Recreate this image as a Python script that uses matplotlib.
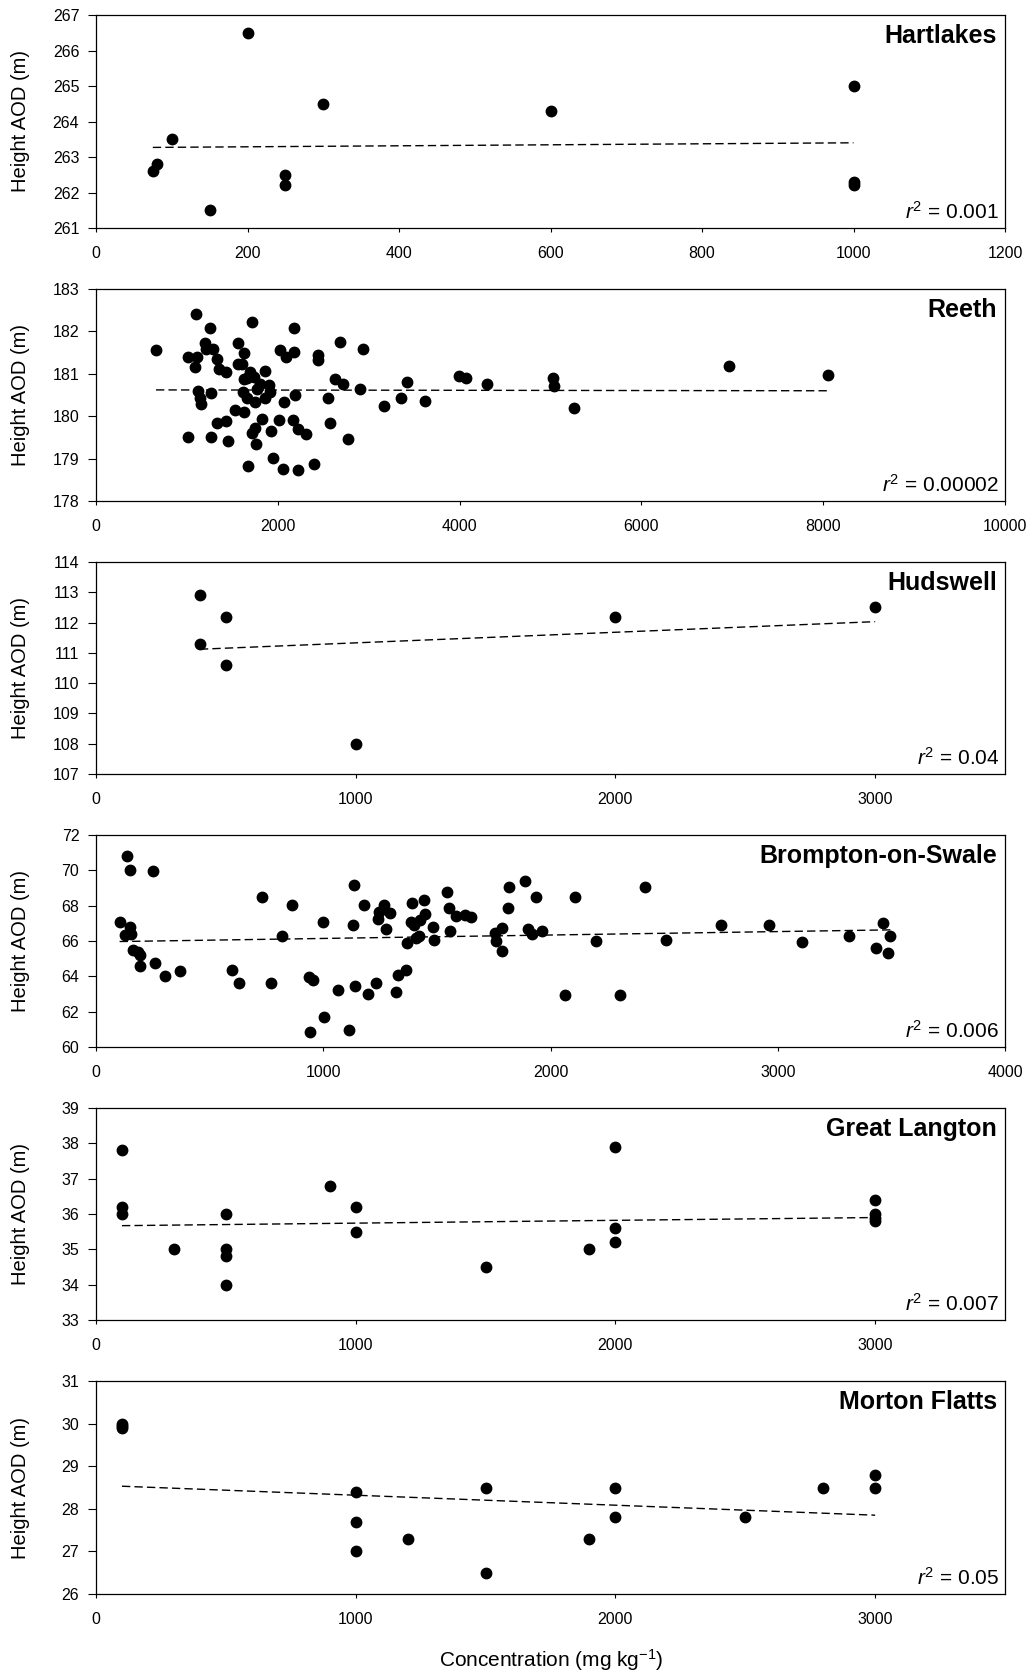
import matplotlib
matplotlib.use("Agg")
import matplotlib.pyplot as plt
import numpy as np

plt.rcParams['font.family'] = ['Liberation Sans', 'DejaVu Sans']
plt.rcParams['mathtext.fontset'] = 'custom'
plt.rcParams['mathtext.rm'] = 'Liberation Sans'
plt.rcParams['mathtext.it'] = 'Liberation Sans:italic'

# Hartlakes
hart_x = [75, 80, 100, 150, 200, 250, 250, 300, 600, 1000, 1000, 1000]
hart_y = [262.6, 262.8, 263.5, 261.5, 266.5, 262.5, 262.2, 264.5, 264.3, 265.0, 262.3, 262.2]
hart_trend_x = [75, 1000]
hart_trend_y = [263.27, 263.40]

# Reeth
reeth_x = [660, 1104, 1008, 1111, 1085, 1250, 1203, 1210, 1283, 1331, 1349, 1430,
           1122, 1140, 1151, 1269, 1012, 1269, 1331, 1430, 1452, 1558, 1624, 1565,
           1606, 1716, 1698, 1661, 1742, 1855, 1624, 1617, 1661, 1753, 1771, 1808,
           1900, 1918, 1855, 1533, 1624, 1826, 1753, 1716, 1764, 1929, 2009, 1947,
           1669, 2057, 2222, 2395, 2065, 2193, 2167, 2222, 2314, 2028, 2090, 2174,
           2174, 2442, 2442, 2552, 2633, 2717, 2688, 2578, 2776, 2908, 2937, 3172,
           3359, 3421, 3623, 3990, 4070, 4301, 5032, 5043, 5257, 6964, 8056]
reeth_y = [181.56, 182.40, 181.40, 181.39, 181.17, 182.09, 181.73, 181.58, 181.58, 181.36,
           181.11, 181.05, 180.60, 180.43, 180.28, 180.54, 179.51, 179.51, 179.85, 179.88,
           179.42, 181.73, 181.50, 181.24, 181.22, 182.23, 181.05, 180.91, 180.93, 181.06,
           180.87, 180.57, 180.42, 180.34, 180.65, 180.77, 180.73, 180.57, 180.42, 180.14,
           180.10, 179.94, 179.71, 179.61, 179.35, 179.65, 179.91, 179.02, 178.82, 178.76,
           178.74, 178.87, 180.34, 180.51, 179.91, 179.69, 179.57, 181.56, 181.39, 181.52,
           182.09, 181.44, 181.32, 180.43, 180.87, 180.76, 181.74, 179.85, 179.46, 180.64,
           181.58, 180.24, 180.42, 180.81, 180.35, 180.94, 180.89, 180.77, 180.89, 180.72,
           180.20, 181.18, 180.96]
reeth_trend_x = [660, 8056]
reeth_trend_y = [180.62, 180.60]

# Hudswell
huds_x = [400, 400, 500, 500, 1000, 2000, 3000]
huds_y = [112.9, 111.3, 112.2, 110.6, 108.0, 112.2, 112.5]
huds_trend_x = [400, 3000]
huds_trend_y = [111.12, 112.03]

# Brompton-on-Swale
bro_x = [136, 151, 104, 151, 154, 126, 163, 183, 192, 195, 253, 258, 305, 370,
         600, 630, 729, 769, 817, 861, 938, 956, 941, 1000, 1003, 1066, 1114, 1132,
         1136, 1139, 1178, 1197, 1234, 1239, 1245, 1266, 1278, 1293, 1319, 1329,
         1366, 1369, 1391, 1388, 1400, 1407, 1420, 1427, 1442, 1449, 1483, 1487,
         1545, 1553, 1559, 1585, 1622, 1651, 1757, 1758, 1788, 1787, 1817, 1815,
         1887, 1935, 1902, 1917, 1962, 2108, 2065, 2200, 2305, 2414, 2507, 2752,
         2960, 3105, 3313, 3433, 3463, 3486, 3496]
bro_y = [70.83, 70.02, 67.10, 66.78, 66.40, 66.35, 65.50, 65.40, 65.20, 64.60, 69.97,
         64.75, 64.03, 64.28, 64.37, 63.65, 68.48, 63.62, 66.29, 68.01, 63.94, 63.77,
         60.83, 67.10, 61.68, 63.24, 60.98, 66.88, 69.15, 63.48, 68.04, 63.00, 63.62,
         67.25, 67.63, 68.04, 66.69, 67.57, 63.09, 64.05, 64.37, 65.88, 68.14, 67.10,
         66.91, 66.16, 66.29, 67.20, 68.33, 67.52, 66.82, 66.03, 68.80, 67.86, 66.57,
         67.42, 67.48, 67.38, 66.44, 66.00, 66.72, 65.41, 69.08, 67.86, 69.42, 68.51,
         66.67, 66.39, 66.57, 68.51, 62.92, 66.01, 62.96, 69.08, 66.03, 66.91, 66.91,
         65.97, 66.29, 65.59, 67.00, 65.31, 66.29]
bro_trend_x = [104, 3496]
bro_trend_y = [65.97, 66.63]

# Great Langton
gl_x = [100, 100, 100, 300, 500, 500, 500, 500, 900, 1000, 1000, 1500, 1900,
        2000, 2000, 2000, 3000, 3000, 3000, 3000]
gl_y = [37.8, 36.2, 36.0, 35.0, 36.0, 35.0, 34.8, 34.0, 36.8, 36.2, 35.5, 34.5,
        35.0, 37.9, 35.6, 35.2, 36.4, 36.0, 35.9, 35.8]
gl_trend_x = [100, 3000]
gl_trend_y = [35.67, 35.90]

# Morton Flatts
mf_x = [100, 100, 100, 1000, 1000, 1000, 1200, 1500, 1500, 1900, 2000, 2000,
        2500, 2800, 3000, 3000]
mf_y = [30.0, 29.95, 29.9, 28.4, 27.7, 27.0, 27.3, 28.5, 26.5, 27.3, 28.5, 27.8,
        27.8, 28.5, 28.8, 28.5]
mf_trend_x = [100, 3000]
mf_trend_y = [28.53, 27.85]

panels = [
    ("Hartlakes", hart_x, hart_y, hart_trend_x, hart_trend_y, "0.001",
     (0, 1200), range(0, 1201, 200), (261, 267), range(261, 268, 1), (15, 228)),
    ("Reeth", reeth_x, reeth_y, reeth_trend_x, reeth_trend_y, "0.00002",
     (0, 10000), range(0, 10001, 2000), (178, 183), range(178, 184, 1), (289, 501)),
    ("Hudswell", huds_x, huds_y, huds_trend_x, huds_trend_y, "0.04",
     (0, 3500), range(0, 3001, 1000), (107, 114), range(107, 115, 1), (562, 774)),
    ("Brompton-on-Swale", bro_x, bro_y, bro_trend_x, bro_trend_y, "0.006",
     (0, 4000), range(0, 4001, 1000), (60, 72), range(60, 73, 2), (835, 1047)),
    ("Great Langton", gl_x, gl_y, gl_trend_x, gl_trend_y, "0.007",
     (0, 3500), range(0, 3001, 1000), (33, 39), range(33, 40, 1), (1108, 1320)),
    ("Morton Flatts", mf_x, mf_y, mf_trend_x, mf_trend_y, "0.05",
     (0, 3500), range(0, 3001, 1000), (26, 31), range(26, 32, 1), (1381, 1594)),
]

W, H = 1034, 1676
L, R = 96, 1005
fig = plt.figure(figsize=(W / 100, H / 100), dpi=100)

for name, x, y, tx, ty, r2, xlim, xt, ylim, yt, (t, b) in panels:
    ax = fig.add_axes([L / W, 1 - b / H, (R - L) / W, (b - t) / H])
    ax.plot(x, y, 'o', color='black', markersize=7.5, zorder=3)
    ax.plot(tx, ty, color='black', lw=1.0, dashes=(6, 3), zorder=2)
    ax.set_xlim(*xlim)
    ax.set_ylim(*ylim)
    ax.set_xticks(list(xt))
    ax.set_yticks(list(yt))
    ax.tick_params(axis='y', direction='out', length=6, width=0.8, labelsize=11.5, pad=6)
    ax.tick_params(axis='x', direction='out', length=3, width=0.8, labelsize=11.5, pad=10)
    for s in ax.spines.values():
        s.set_linewidth(0.9)
    ax.set_ylabel("Height AOD (m)", fontsize=14.5)
    ax.yaxis.set_label_coords(-66 / (R - L), 0.5)
    ax.text(1 - 8 / (R - L), 1 - 21 / (b - t), name, transform=ax.transAxes,
            ha='right', va='center', fontsize=18, fontweight='bold')
    ax.text(1 - 6 / (R - L), 16 / (b - t), r'$\it{r}^{2}$ = ' + r2, transform=ax.transAxes,
            ha='right', va='center', fontsize=15)

fig.text(551 / W, 1 - 1660 / H, r'Concentration (mg kg$^{-1}$)', ha='center', va='center',
         fontsize=15)

fig.savefig("out.png", dpi=100)
